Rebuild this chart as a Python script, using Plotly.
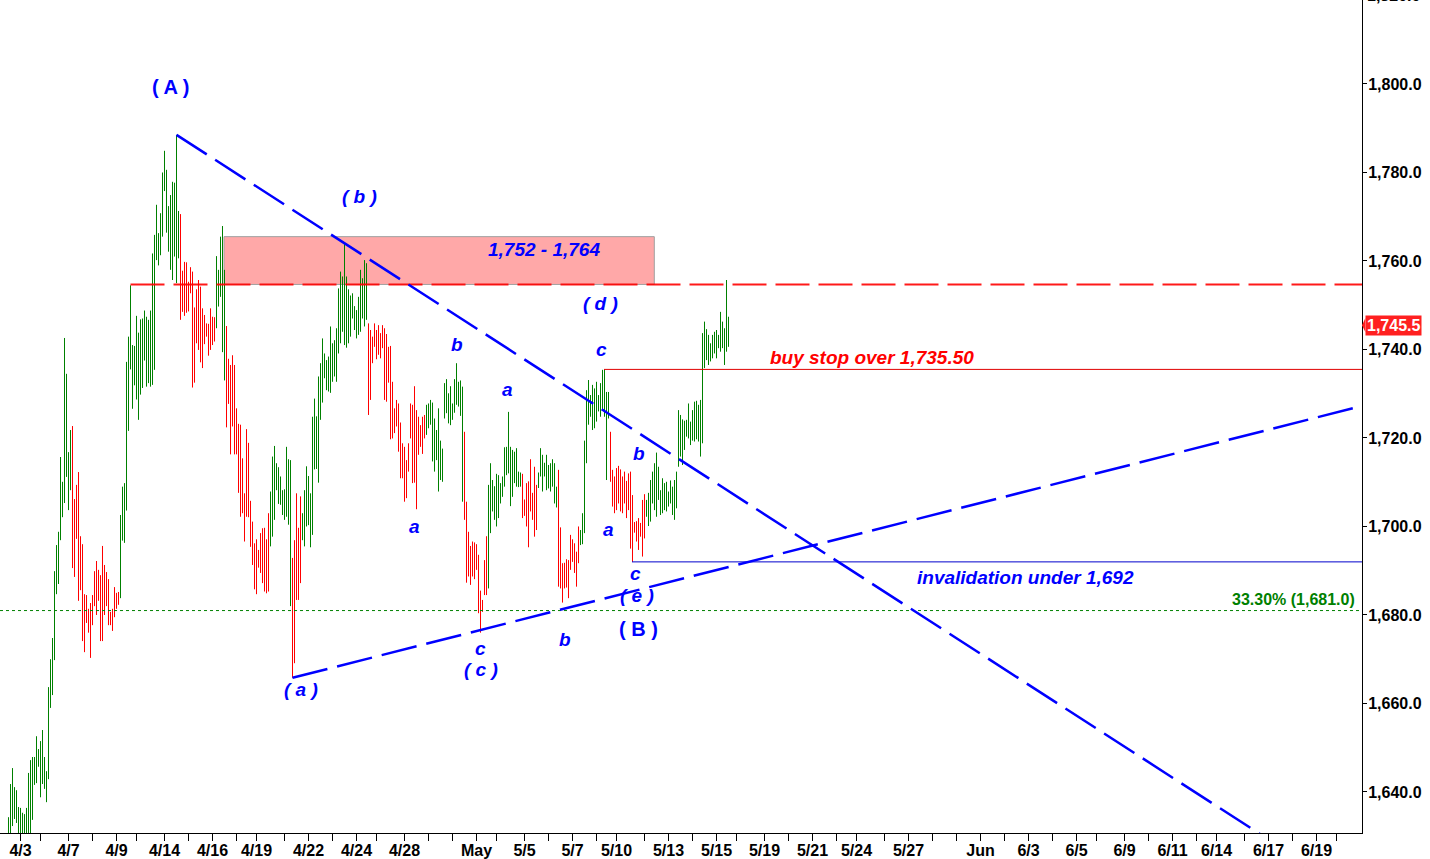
import plotly.graph_objects as go

# ---------------- data (hourly bars, high / low) ----------------
HIGH_APR_EARLY = [
    1634.3, 1641.8, 1645.4, 1641.1, 1640.4, 1636.6, 1636.4, 1635.3, 1635.0, 1636.4,
    1644.3, 1647.2, 1647.9, 1647.9, 1652.6, 1649.7, 1651.5, 1654.0, 1647.9, 1644.7,
    1663.7, 1670.0, 1674.8, 1689.9, 1695.8, 1698.8, 1715.7, 1710.1, 1742.6, 1734.5,
    1716.8, 1721.8, 1722.7, 1706.2, 1709.4, 1712.3, 1697.8, 1696.0, 1684.7, 1684.5,
    1681.4, 1682.7, 1684.5, 1689.9, 1692.2, 1690.2, 1689.0, 1695.6, 1691.3, 1689.7,
    1688.1, 1680.7, 1681.4, 1686.3, 1685.0, 1685.2]
LOW_APR_EARLY = [
    1628.0, 1629.0, 1632.3, 1633.9, 1633.0, 1629.0, 1629.0, 1629.5, 1629.0, 1629.5,
    1630.0, 1630.0, 1633.7, 1641.6, 1642.0, 1645.7, 1638.8, 1641.8, 1640.7, 1637.7,
    1642.9, 1659.0, 1661.9, 1669.8, 1684.7, 1687.0, 1696.9, 1702.1, 1705.3, 1711.2,
    1703.7, 1708.2, 1690.6, 1688.6, 1697.2, 1683.2, 1685.6, 1674.1, 1671.6, 1678.2,
    1676.0, 1670.3, 1677.7, 1682.0, 1680.0, 1683.2, 1674.1, 1674.1, 1680.0, 1682.0,
    1677.7, 1677.7, 1676.4, 1679.5, 1681.4, 1682.3]

HIGH_APR_PEAK = [
    1702.6, 1709.0, 1709.8, 1737.2, 1742.9, 1754.5, 1741.0, 1740.8, 1747.6, 1743.8,
    1746.8, 1747.0, 1748.8, 1747.4, 1746.7, 1748.8, 1761.7, 1765.9, 1772.7, 1766.3,
    1770.8, 1780.0, 1784.9, 1780.6, 1772.4, 1774.9, 1777.9, 1777.7, 1788.5, 1771.3,
    1770.6, 1757.8, 1759.8, 1759.7, 1755.3, 1758.6, 1757.6, 1749.5, 1753.6, 1755.7,
    1754.2, 1749.3, 1747.8, 1745.9, 1745.8, 1749.3, 1747.4, 1747.3, 1761.1, 1758.0,
    1765.5, 1767.9, 1758.0, 1745.3, 1737.9, 1736.5, 1738.7, 1736.5, 1726.7, 1723.2,
    1723.0, 1715.4, 1707.5, 1722.0, 1718.9, 1705.8, 1701.1, 1696.2, 1697.1, 1694.7,
    1698.5, 1699.6, 1699.7, 1697.1, 1703.0]
LOW_APR_PEAK = [
    1683.8, 1696.8, 1696.3, 1703.6, 1721.6, 1735.5, 1726.6, 1731.9, 1728.7, 1724.1,
    1729.8, 1731.3, 1737.5, 1731.6, 1732.4, 1731.6, 1732.0, 1735.4, 1760.2, 1759.0,
    1761.3, 1765.5, 1775.8, 1766.4, 1762.1, 1758.0, 1755.7, 1761.0, 1755.0, 1760.6,
    1746.7, 1748.5, 1747.6, 1748.3, 1748.6, 1752.7, 1731.4, 1732.5, 1741.4, 1739.9,
    1737.1, 1735.8, 1741.2, 1742.9, 1738.6, 1739.9, 1741.0, 1741.8, 1744.8, 1749.7,
    1751.9, 1739.4, 1733.0, 1722.4, 1727.7, 1716.3, 1722.6, 1716.3, 1716.3, 1707.6,
    1702.2, 1703.0, 1696.6, 1702.2, 1702.1, 1695.4, 1691.3, 1685.8, 1684.7, 1690.7,
    1689.5, 1687.2, 1685.3, 1684.9, 1685.3]

HIGH_APR_LATE = [
    1707.9, 1715.8, 1718.2, 1714.3, 1713.4, 1711.3, 1708.2, 1708.4, 1718.0, 1715.2,
    1715.0, 1692.9, 1696.9, 1707.5, 1699.7, 1706.8, 1703.0, 1708.2, 1713.6, 1711.4,
    1707.5, 1724.8, 1728.9, 1724.9, 1733.9, 1736.9, 1742.5, 1739.1, 1737.6, 1738.4,
    1745.2, 1741.4, 1742.1, 1744.8, 1753.8, 1757.6, 1756.5, 1764.0, 1756.5, 1753.6,
    1752.2, 1752.7, 1749.8, 1748.9, 1751.9, 1758.0, 1756.1, 1760.2, 1759.5, 1745.9,
    1744.4, 1742.9, 1745.9, 1744.4, 1745.5, 1743.7, 1745.5, 1744.8, 1743.5, 1740.6,
    1740.8, 1732.7, 1726.7, 1728.6, 1727.8, 1723.5, 1718.8, 1718.0, 1715.0, 1718.8,
    1727.8, 1727.5, 1731.7, 1726.3, 1724.8, 1722.9, 1724.8, 1725.2]
LOW_APR_LATE = [
    1695.5, 1697.7, 1701.5, 1708.2, 1705.1, 1704.9, 1702.6, 1701.5, 1702.2, 1700.4,
    1682.0, 1665.8, 1669.1, 1683.4, 1683.4, 1687.2, 1696.9, 1695.5, 1700.0, 1700.3,
    1695.3, 1698.1, 1712.9, 1713.0, 1709.9, 1724.1, 1728.0, 1733.5, 1730.8, 1730.5,
    1730.2, 1732.7, 1733.9, 1732.7, 1739.1, 1741.4, 1744.0, 1741.0, 1740.4, 1741.4,
    1742.9, 1747.0, 1744.4, 1742.5, 1743.3, 1744.0, 1747.0, 1745.2, 1746.7, 1725.2,
    1728.6, 1736.9, 1740.6, 1737.8, 1738.8, 1738.0, 1740.3, 1728.6, 1728.2, 1732.5,
    1719.7, 1719.9, 1721.1, 1722.6, 1716.9, 1710.9, 1710.9, 1705.6, 1706.4, 1712.4,
    1719.9, 1709.8, 1709.9, 1703.9, 1716.2, 1718.0, 1716.4, 1719.9]

HIGH_MAY_EARLY = [
    1727.5, 1727.8, 1728.6, 1728.0, 1724.4, 1721.8, 1726.7, 1719.4, 1717.6, 1732.4,
    1733.3, 1730.1, 1731.7, 1727.8, 1733.3, 1736.9, 1732.7, 1733.0, 1731.6, 1721.4,
    1705.6, 1698.8, 1695.6, 1696.6, 1696.4, 1696.0, 1693.6, 1685.5, 1683.4, 1692.4,
    1697.8, 1709.4, 1714.3, 1710.5, 1709.1, 1711.9, 1711.6, 1709.8, 1711.3, 1717.9,
    1718.0, 1725.9, 1718.0, 1717.3, 1716.9, 1717.7, 1712.4, 1712.2, 1711.9, 1706.1,
    1709.8, 1710.2, 1715.2, 1707.6, 1713.5, 1709.4, 1712.2, 1717.7, 1716.2, 1714.4,
    1716.2, 1713.9, 1714.3, 1715.2, 1714.3, 1709.0, 1712.8, 1699.8, 1691.7, 1691.8,
    1692.6, 1692.4, 1698.1, 1697.1, 1696.2, 1694.3, 1700.0]
LOW_MAY_EARLY = [
    1720.7, 1722.2, 1723.0, 1714.7, 1712.4, 1715.0, 1707.9, 1710.5, 1710.1, 1724.4,
    1725.6, 1723.3, 1722.9, 1724.1, 1725.7, 1727.5, 1727.1, 1725.0, 1705.6, 1701.5,
    1687.3, 1688.7, 1686.8, 1688.7, 1688.1, 1690.2, 1680.4, 1676.0, 1680.7, 1684.5,
    1684.5, 1686.0, 1698.5, 1703.4, 1701.5, 1700.0, 1701.9, 1705.2, 1706.7, 1709.0,
    1711.6, 1712.0, 1704.6, 1706.7, 1709.8, 1709.0, 1708.9, 1709.0, 1701.9, 1702.4,
    1700.0, 1695.3, 1703.4, 1701.5, 1697.7, 1699.2, 1708.7, 1711.3, 1707.9, 1711.3,
    1708.2, 1708.6, 1707.9, 1709.0, 1705.2, 1704.3, 1686.4, 1686.0, 1682.8, 1686.0,
    1686.2, 1683.8, 1690.2, 1692.0, 1689.5, 1686.4, 1691.7]

HIGH_MAY_LATE = [
    1699.2, 1703.0, 1719.4, 1730.8, 1733.1, 1729.7, 1732.0, 1731.2, 1732.7, 1729.7,
    1732.4, 1735.4, 1735.5, 1730.4, 1730.4, 1721.4, 1712.8, 1711.3, 1713.2, 1713.7,
    1712.9, 1711.3, 1712.4, 1710.3, 1712.0, 1712.4, 1707.1, 1701.0, 1701.2, 1701.9,
    1700.8, 1706.0, 1707.3, 1706.0, 1707.6, 1710.5, 1712.4, 1714.3, 1716.7, 1713.5,
    1708.2, 1710.9, 1709.8, 1710.1, 1707.9, 1710.4, 1709.0, 1710.5, 1712.4, 1726.3,
    1725.2, 1724.2, 1723.9, 1724.1, 1727.8, 1723.7, 1726.3, 1728.2, 1728.4, 1727.5,
    1728.6, 1743.7, 1746.3, 1744.6, 1743.3, 1741.4, 1743.3, 1744.0, 1744.4, 1743.3,
    1748.5, 1746.3, 1744.8, 1755.7, 1747.4]
LOW_MAY_LATE = [
    1695.8, 1696.0, 1698.5, 1714.3, 1723.0, 1724.8, 1721.8, 1722.2, 1723.7, 1726.0,
    1724.8, 1726.3, 1724.8, 1710.5, 1724.4, 1710.1, 1704.5, 1703.0, 1703.7, 1705.2,
    1703.4, 1703.0, 1705.2, 1701.9, 1703.7, 1695.0, 1692.0, 1698.6, 1696.6, 1694.7,
    1697.7, 1693.2, 1697.3, 1702.2, 1700.1, 1701.1, 1705.2, 1703.7, 1702.2, 1706.0,
    1702.6, 1703.0, 1703.7, 1703.4, 1704.5, 1705.2, 1702.6, 1701.5, 1704.1, 1713.5,
    1715.8, 1713.9, 1717.3, 1720.3, 1719.9, 1718.4, 1719.4, 1719.2, 1719.7, 1719.2,
    1715.8, 1718.8, 1735.8, 1737.6, 1736.5, 1737.3, 1738.0, 1739.1, 1738.0, 1740.3,
    1739.5, 1740.3, 1736.5, 1739.5, 1740.6]

# bar colouring: runs of up / down bars
TREND_RUNS = [("up", 32), ("down", 24), ("up", 30), ("down", 18), ("up", 5),
              ("down", 22), ("up", 11), ("down", 5), ("up", 33), ("down", 29),
              ("up", 19), ("down", 12), ("up", 17), ("down", 8), ("up", 10),
              ("down", 11), ("up", 15), ("down", 18), ("up", 42)]

# x axis: session ticks (bar index) and labels
TICK_BARS = [6, 16, 30, 42, 54, 64, 78, 90, 102, 114, 124, 138, 150, 162, 174, 184,
             198, 210, 222, 234, 244, 258, 270, 282, 294, 304, 318, 330, 342, 354,
             364, 378, 390, 402, 414, 424, 438, 450, 462, 474, 486, 498, 510, 522,
             534, 544, 558, 570, 582, 594, 604, 618, 630, 642, 654, 664]
TICK_LABELS = {6: "4/3", 30: "4/7", 54: "4/9", 78: "4/14", 102: "4/16", 124: "4/19",
               150: "4/22", 174: "4/24", 198: "4/28", 234: "May", 258: "5/5",
               282: "5/7", 304: "5/10", 330: "5/13", 354: "5/15", 378: "5/19",
               402: "5/21", 424: "5/24", 450: "5/27", 486: "Jun", 510: "6/3",
               534: "6/5", 558: "6/9", 582: "6/11", 604: "6/14", 630: "6/17",
               654: "6/19"}
Y_TICKS = [1640, 1660, 1680, 1700, 1720, 1740, 1760, 1780, 1800]

# levels and trendlines
RESIST_ZONE = (1754.7, 1765.5)      # shaded box (label 1,752 - 1,764)
RESIST_LEVEL = 1754.7               # red dashed line
BUY_STOP = 1735.5
INVALIDATION = 1692.0
FIB_LEVEL = 1681.0
LAST_PRICE = 1745.5
TOP_TICK = 1820.0
UPPER_LINE_BARS = [84, 168]         # (A) high -> (b) high
LOWER_LINE = ([142, 236], [1665.8, 1676.6])   # (a) low -> (c) low

HIGH = HIGH_APR_EARLY + HIGH_APR_PEAK + HIGH_APR_LATE + HIGH_MAY_EARLY + HIGH_MAY_LATE
LOW = LOW_APR_EARLY + LOW_APR_PEAK + LOW_APR_LATE + LOW_MAY_EARLY + LOW_MAY_LATE
TREND = [t for t, n in TREND_RUNS for _ in range(n)]
assert len(HIGH) == len(LOW) == len(TREND)

X_MIN, X_MAX = -4.25, 676.75
Y_MIN, Y_MAX = 1630.73, 1818.98
FONT = "Liberation Sans, Arial, sans-serif"
BLUE = "#0000FF"

fig = go.Figure()


def bar_trace(kind, color):
    xs, ys = [], []
    for i, (h, l, t) in enumerate(zip(HIGH, LOW, TREND)):
        if t == kind:
            xs += [i, i, None]
            ys += [l, h, None]
    return go.Scatter(x=xs, y=ys, mode="lines", line=dict(color=color, width=1),
                      hoverinfo="skip", showlegend=False)


fig.add_trace(bar_trace("up", "#008000"))
fig.add_trace(bar_trace("down", "#FF0000"))

# shaded resistance zone
fig.add_shape(type="rect", xref="x", yref="y", x0=107.75, x1=322.9,
              y0=RESIST_ZONE[0], y1=RESIST_ZONE[1], layer="below",
              fillcolor="#FFA8A8", line=dict(color="#A0A0A0", width=1))

# fib dotted level
fig.add_trace(go.Scatter(x=[X_MIN, X_MAX], y=[FIB_LEVEL, FIB_LEVEL], mode="lines",
                         line=dict(color="#008000", width=1, dash="3px,3px"),
                         hoverinfo="skip"))
# red dashed resistance
fig.add_trace(go.Scatter(x=[61, X_MAX], y=[RESIST_LEVEL, RESIST_LEVEL], mode="lines",
                         line=dict(color="rgba(255,0,0,0.9)", width=2, dash="34px,9px"),
                         hoverinfo="skip"))
# buy stop / invalidation thin lines
fig.add_trace(go.Scatter(x=[297.75, X_MAX], y=[BUY_STOP, BUY_STOP], mode="lines",
                         line=dict(color="#E00000", width=1), hoverinfo="skip"))
fig.add_trace(go.Scatter(x=[311.75, X_MAX], y=[INVALIDATION, INVALIDATION], mode="lines",
                         line=dict(color="#0000CC", width=1), hoverinfo="skip"))

# trendlines, extended to the right edge
x0, x1 = UPPER_LINE_BARS
y0, y1 = HIGH[x0], HIGH[x1]
slope = (y1 - y0) / (x1 - x0)
fig.add_trace(go.Scatter(x=[x0, X_MAX], y=[y0, y0 + slope * (X_MAX - x0)], mode="lines",
                         line=dict(color=BLUE, width=2.5, dash="36px,10px"),
                         hoverinfo="skip"))
(lx0, lx1), (ly0, ly1) = LOWER_LINE
lslope = (ly1 - ly0) / (lx1 - lx0)
fig.add_trace(go.Scatter(x=[lx0, X_MAX], y=[ly0, ly0 + lslope * (X_MAX - lx0)], mode="lines",
                         line=dict(color=BLUE, width=2.5, dash="36px,10px"),
                         hoverinfo="skip"))

# wave labels: text, bar position, price, style
LABELS = [
    ("( A )", 80.75, 1799.3, "up"),
    ("( b )", 175.25, 1774.5, "it"),
    ("1,752 - 1,764", 267.75, 1762.5, "it"),
    ("( d )", 295.75, 1750.5, "it"),
    ("b", 224.25, 1741.2, "it"),
    ("a", 249.25, 1730.9, "it"),
    ("c", 296.25, 1740.1, "it"),
    ("b", 315.25, 1716.4, "it"),
    ("a", 202.75, 1700.1, "it"),
    ("a", 299.75, 1699.4, "it"),
    ("c", 313.25, 1689.3, "it"),
    ("( e )", 314.25, 1684.3, "it"),
    ("( B )", 314.75, 1676.8, "up"),
    ("c", 235.75, 1672.5, "it"),
    ("b", 278.25, 1674.4, "it"),
    ("( c )", 236.25, 1667.6, "it"),
    ("( a )", 146.25, 1663.1, "it"),
]
for text, bx, py, style in LABELS:
    if style == "up":
        txt, size = "<b>%s</b>" % text, 20
    else:
        txt, size = "<b><i>%s</i></b>" % text, 19
    fig.add_annotation(x=bx, y=py, xref="x", yref="y", text=txt, showarrow=False,
                       font=dict(family=FONT, size=size, color=BLUE),
                       xanchor="center", yanchor="middle")

fig.add_annotation(x=431.75, y=1738.3, text="<b><i>buy stop over 1,735.50</i></b>",
                   showarrow=False, font=dict(family=FONT, size=19, color="#FF0000"))
fig.add_annotation(x=508.25, y=1688.4, text="<b><i>invalidation under 1,692</i></b>",
                   showarrow=False, font=dict(family=FONT, size=19, color=BLUE))
fig.add_annotation(x=674.1, y=1683.4, text="<b>33.30% (1,681.0)</b>", xanchor="right",
                   showarrow=False, font=dict(family=FONT, size=16, color="#008000"))

# last price tag on the axis
fig.add_annotation(x=1, xref="paper", y=LAST_PRICE, yref="y", xanchor="left", xshift=3,
                   text="<b>1,745.5</b>", showarrow=False, bgcolor="#FF2020", borderpad=1,
                   font=dict(family=FONT, size=16, color="white"))
fig.add_shape(type="path", xref="paper", yref="y",
              path="M 1.0,%s L 1.0025,%s L 1.0025,%s Z" % (LAST_PRICE, LAST_PRICE + 1.6, LAST_PRICE - 1.6),
              fillcolor="#FF2020", line=dict(width=0))
# partially visible top tick label (just above the plotted range)
fig.add_annotation(x=1, xref="paper", y=(TOP_TICK - Y_MIN) / (Y_MAX - Y_MIN), yref="paper",
                   xanchor="left", yanchor="middle", xshift=3,
                   text="<b>1,820.0</b>", showarrow=False,
                   font=dict(family=FONT, size=16, color="black"))

tickfont = dict(family=FONT, size=16, color="black", weight="bold")
fig.update_layout(
    width=1430, height=859,
    margin=dict(l=0, r=68, t=0, b=26, autoexpand=False),
    plot_bgcolor="white", paper_bgcolor="white",
    showlegend=False,
    xaxis=dict(range=[X_MIN, X_MAX], tickmode="array", tickvals=TICK_BARS,
               ticktext=[TICK_LABELS.get(t, "") for t in TICK_BARS],
               ticks="outside", ticklen=7, tickcolor="black", tickwidth=1,
               ticklabelstandoff=-4,
               showline=True, linecolor="black", linewidth=1, automargin=False,
               showgrid=False, zeroline=False, tickfont=tickfont, fixedrange=True),
    yaxis=dict(range=[Y_MIN, Y_MAX], side="right", tickmode="array", tickvals=Y_TICKS,
               tickformat=",.1f", ticks="outside", ticklen=4, tickcolor="black",
               ticklabelstandoff=-2,
               showline=True, linecolor="black", linewidth=1, automargin=False,
               showgrid=False, zeroline=False, tickfont=tickfont, fixedrange=True),
)

fig.write_html("out.html", config={"displayModeBar": False},
               post_script="document.body.style.margin='0px';"
                           "document.body.style.overflow='hidden';")
